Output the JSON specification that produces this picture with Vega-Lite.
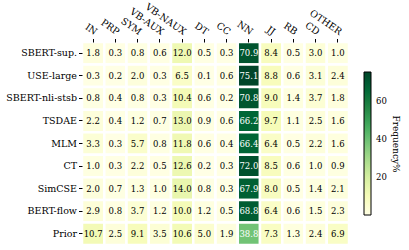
{
  "$schema": "https://vega.github.io/schema/vega-lite/v6.json",
  "autosize": "none",
  "width": 267,
  "height": 203,
  "padding": {"left": 82, "top": 42, "right": 60, "bottom": 5},
  "background": "white",
  "config": {"view": {"stroke": null}, "font": "DejaVu Serif"},
  "data": {"values": [
    {"model": "SBERT-sup.", "IN": 1.8, "PRP": 0.3, "SYM": 0.8, "VB-AUX": 0.6, "VB-NAUX": 12.0, "DT": 0.5, "CC": 0.3, "NN": 70.9, "JJ": 8.4, "RB": 0.5, "CD": 3.0, "OTHER": 1.0},
    {"model": "USE-large", "IN": 0.3, "PRP": 0.2, "SYM": 2.0, "VB-AUX": 0.3, "VB-NAUX": 6.5, "DT": 0.1, "CC": 0.6, "NN": 75.1, "JJ": 8.8, "RB": 0.6, "CD": 3.1, "OTHER": 2.4},
    {"model": "SBERT-nli-stsb", "IN": 0.8, "PRP": 0.4, "SYM": 0.8, "VB-AUX": 0.3, "VB-NAUX": 10.4, "DT": 0.6, "CC": 0.2, "NN": 70.8, "JJ": 9.0, "RB": 1.4, "CD": 3.7, "OTHER": 1.8},
    {"model": "TSDAE", "IN": 2.2, "PRP": 0.4, "SYM": 1.2, "VB-AUX": 0.7, "VB-NAUX": 13.0, "DT": 0.9, "CC": 0.6, "NN": 66.2, "JJ": 9.7, "RB": 1.1, "CD": 2.5, "OTHER": 1.6},
    {"model": "MLM", "IN": 3.3, "PRP": 0.3, "SYM": 5.7, "VB-AUX": 0.8, "VB-NAUX": 11.8, "DT": 0.6, "CC": 0.4, "NN": 66.4, "JJ": 6.4, "RB": 0.5, "CD": 2.2, "OTHER": 1.6},
    {"model": "CT", "IN": 1.0, "PRP": 0.3, "SYM": 2.2, "VB-AUX": 0.5, "VB-NAUX": 12.6, "DT": 0.2, "CC": 0.3, "NN": 72.0, "JJ": 8.5, "RB": 0.6, "CD": 1.0, "OTHER": 0.9},
    {"model": "SimCSE", "IN": 2.0, "PRP": 0.7, "SYM": 1.3, "VB-AUX": 1.0, "VB-NAUX": 14.0, "DT": 0.8, "CC": 0.3, "NN": 67.9, "JJ": 8.0, "RB": 0.5, "CD": 1.4, "OTHER": 2.1},
    {"model": "BERT-flow", "IN": 2.9, "PRP": 0.8, "SYM": 3.7, "VB-AUX": 1.2, "VB-NAUX": 10.0, "DT": 1.2, "CC": 0.5, "NN": 68.8, "JJ": 6.4, "RB": 0.6, "CD": 1.5, "OTHER": 2.3},
    {"model": "Prior", "IN": 10.7, "PRP": 2.5, "SYM": 9.1, "VB-AUX": 3.5, "VB-NAUX": 10.6, "DT": 5.0, "CC": 1.9, "NN": 38.8, "JJ": 7.3, "RB": 1.3, "CD": 2.4, "OTHER": 6.9}
  ]},
  "transform": [
    {"fold": ["IN", "PRP", "SYM", "VB-AUX", "VB-NAUX", "DT", "CC", "NN", "JJ", "RB", "CD", "OTHER"], "as": ["tag", "freq"]}
  ],
  "encoding": {
    "x": {
      "field": "tag", "type": "nominal",
      "sort": ["IN", "PRP", "SYM", "VB-AUX", "VB-NAUX", "DT", "CC", "NN", "JJ", "RB", "CD", "OTHER"],
      "scale": {"paddingInner": 0, "paddingOuter": 0},
      "axis": {"orient": "top", "title": null, "domain": false, "labelAngle": 35, "labelAlign": "right", "labelBaseline": "bottom", "labelFont": "DejaVu Serif", "labelFontSize": 9.5, "labelColor": "black", "tickColor": "black", "tickSize": 3.5, "labelPadding": 2}
    },
    "y": {
      "field": "model", "type": "nominal",
      "sort": ["SBERT-sup.", "USE-large", "SBERT-nli-stsb", "TSDAE", "MLM", "CT", "SimCSE", "BERT-flow", "Prior"],
      "scale": {"paddingInner": 0, "paddingOuter": 0},
      "axis": {"title": null, "domain": false, "labelFont": "DejaVu Serif", "labelFontSize": 9.5, "labelColor": "black", "tickColor": "black", "tickSize": 3.5, "labelPadding": 2}
    }
  },
  "layer": [
    {
      "mark": {"type": "rect", "stroke": "white", "strokeWidth": 2.5},
      "encoding": {
        "color": {
          "field": "freq", "type": "quantitative",
          "scale": {
            "domain": [0.1, 9.475, 18.85, 28.225, 37.6, 46.975, 56.35, 65.725, 75.1],
            "range": ["#ffffe5", "#f7fcb9", "#d9f0a3", "#addd8e", "#78c679", "#41ab5d", "#238443", "#006837", "#004529"],
            "interpolate": "rgb"
          },
          "legend": {
            "orient": "none", "legendX": 282, "legendY": 30,
            "direction": "vertical", "gradientLength": 143, "gradientThickness": 7,
            "gradientStrokeColor": "black", "gradientStrokeWidth": 1,
            "values": [20, 40, 60],
            "title": "Frequency%", "titleOrient": "right", "titleAngle": 90,
            "titleFont": "DejaVu Serif", "titleFontSize": 9, "titleFontWeight": "normal", "titleColor": "black",
            "titleAnchor": "middle", "titleBaseline": "bottom", "titlePadding": 4,
            "labelFont": "DejaVu Serif", "labelFontSize": 8.5, "labelColor": "black", "labelOffset": 5
          }
        }
      }
    },
    {
      "mark": {"type": "text", "font": "DejaVu Serif", "fontSize": 8.5},
      "encoding": {
        "text": {"field": "freq", "type": "quantitative", "format": ".1f"},
        "color": {
          "condition": {"test": "datum.freq > 30", "value": "white"},
          "value": "black"
        }
      }
    }
  ]
}
